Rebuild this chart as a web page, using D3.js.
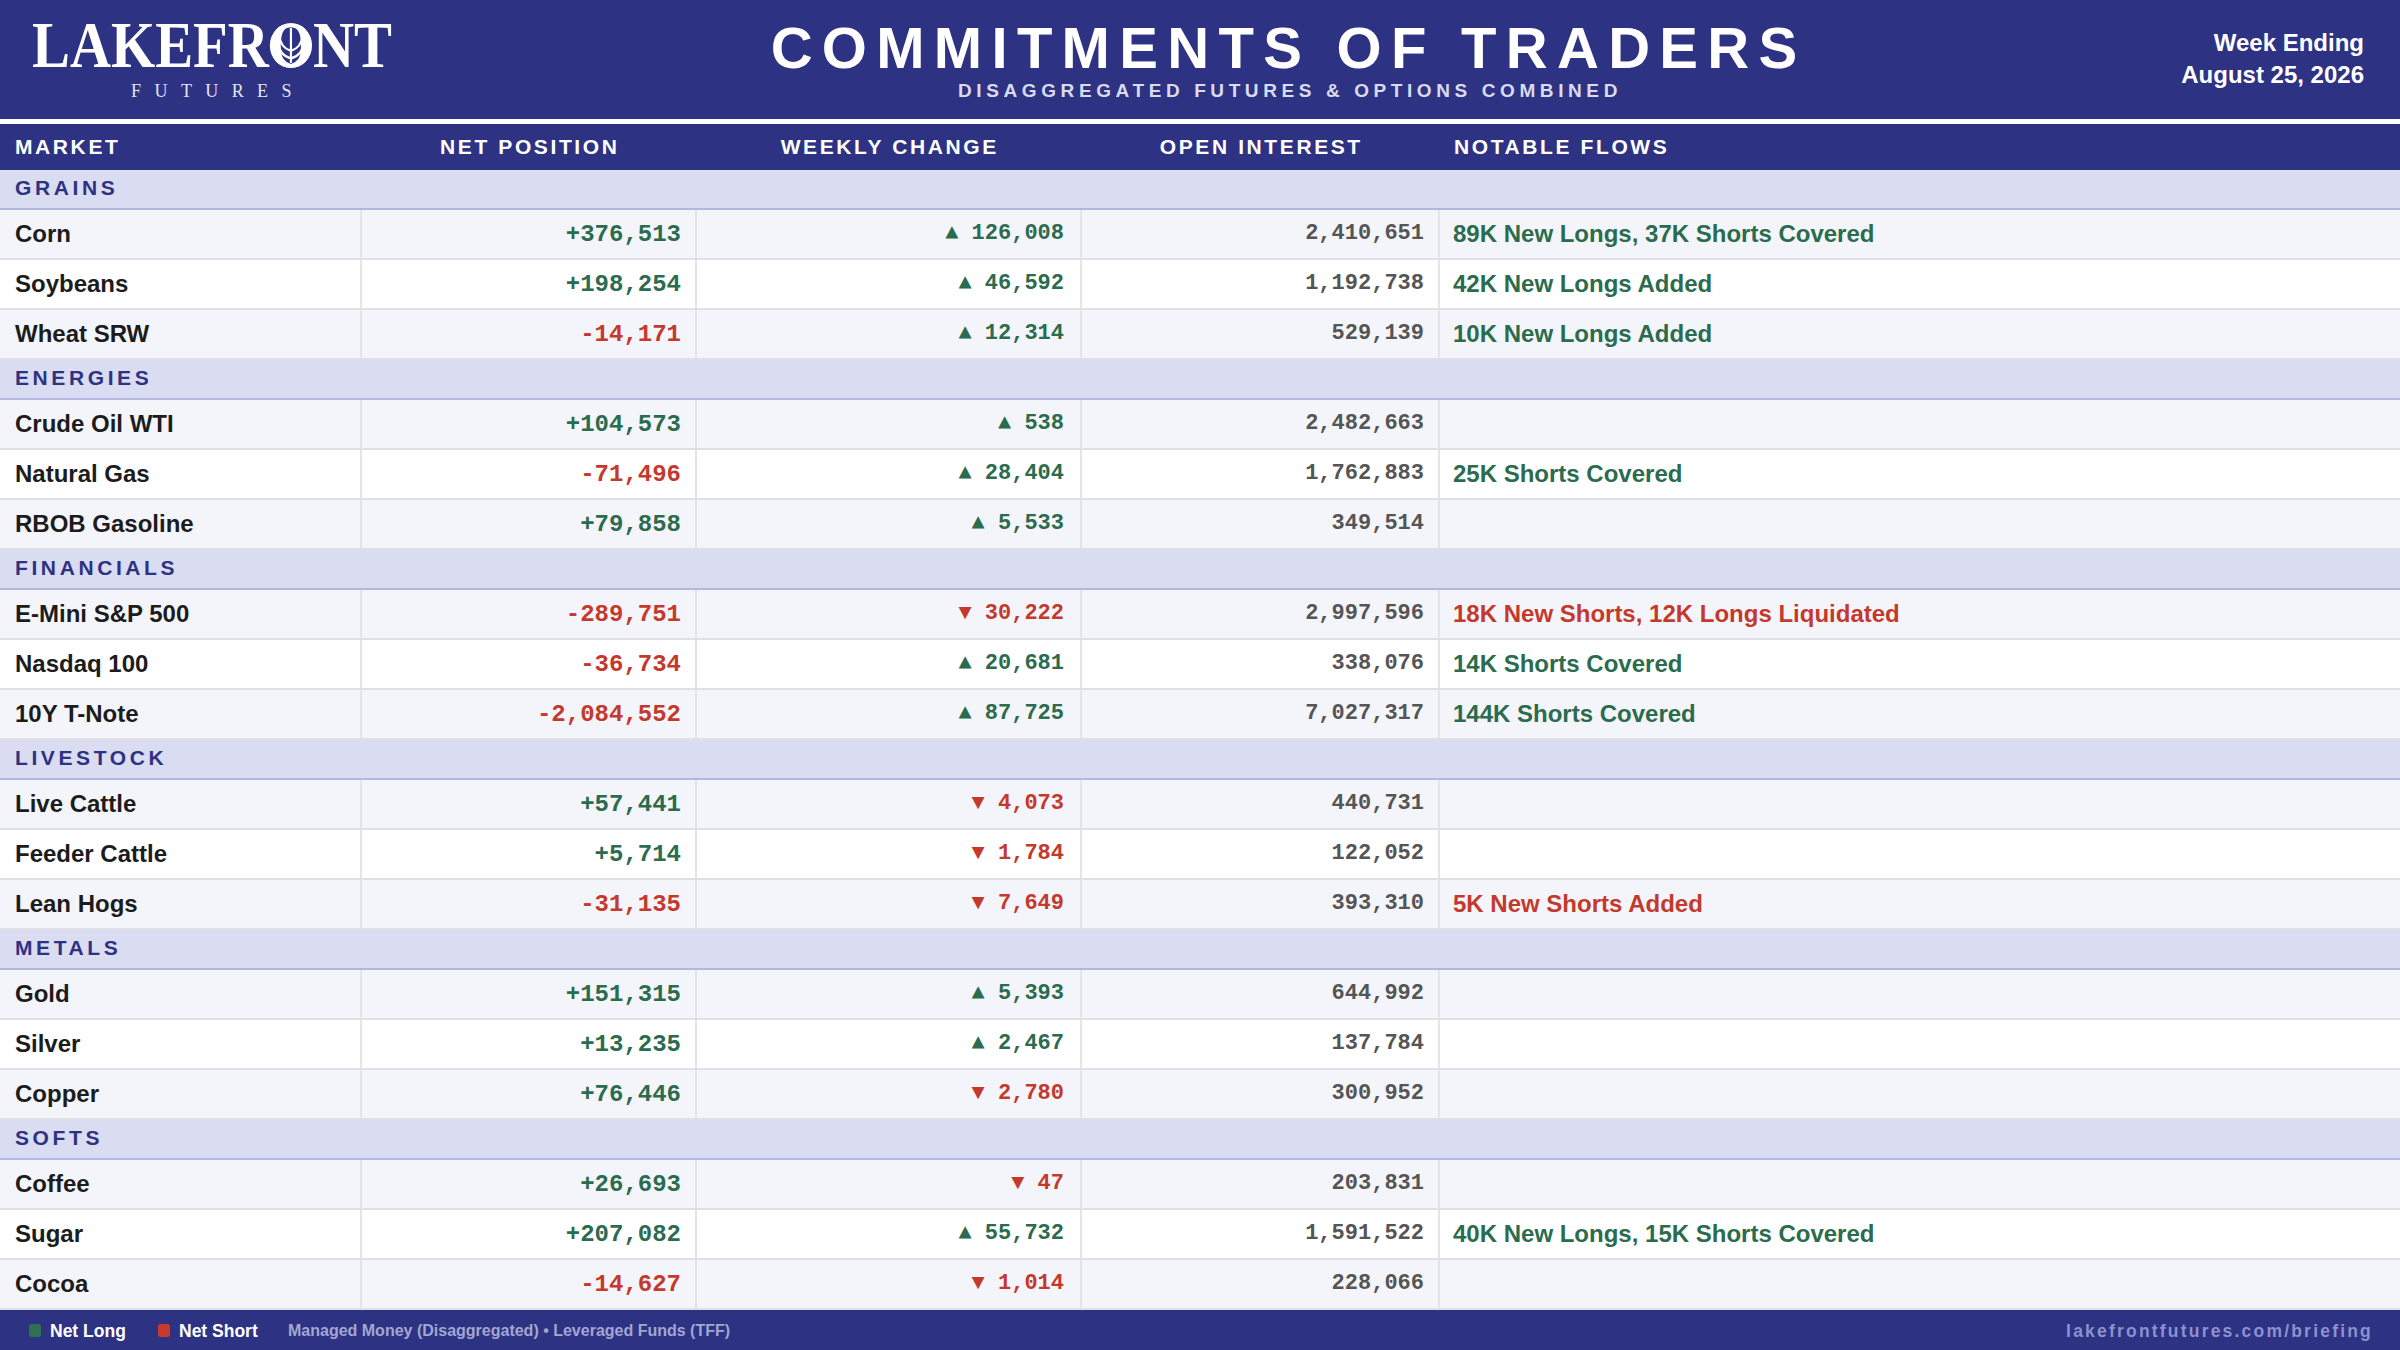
<!DOCTYPE html>
<html>
<head>
<meta charset="utf-8">
<script src="https://cdn.jsdelivr.net/npm/d3@7"></script>
<style>
  html, body { margin: 0; padding: 0; background: #ffffff; }
  svg { display: block; }
</style>
</head>
<body>
<svg id="chart" width="2400" height="1350"></svg>
<script>
// ---------------- DATA ----------------
const groups = ["GRAINS", "ENERGIES", "FINANCIALS", "LIVESTOCK", "METALS", "SOFTS"];
const markets = ["Corn", "Soybeans", "Wheat SRW",
  "Crude Oil WTI", "Natural Gas", "RBOB Gasoline",
  "E-Mini S&P 500", "Nasdaq 100", "10Y T-Note",
  "Live Cattle", "Feeder Cattle", "Lean Hogs",
  "Gold", "Silver", "Copper",
  "Coffee", "Sugar", "Cocoa"];
const marketGroup = ["GRAINS", "GRAINS", "GRAINS",
  "ENERGIES", "ENERGIES", "ENERGIES",
  "FINANCIALS", "FINANCIALS", "FINANCIALS",
  "LIVESTOCK", "LIVESTOCK", "LIVESTOCK",
  "METALS", "METALS", "METALS",
  "SOFTS", "SOFTS", "SOFTS"];
const netPositions = [376513, 198254, -14171,
  104573, -71496, 79858,
  -289751, -36734, -2084552,
  57441, 5714, -31135,
  151315, 13235, 76446,
  26693, 207082, -14627];
const weeklyChanges = [126008, 46592, 12314,
  538, 28404, 5533,
  -30222, 20681, 87725,
  -4073, -1784, -7649,
  5393, 2467, -2780,
  -47, 55732, -1014];
const openInterest = [2410651, 1192738, 529139,
  2482663, 1762883, 349514,
  2997596, 338076, 7027317,
  440731, 122052, 393310,
  644992, 137784, 300952,
  203831, 1591522, 228066];
const notableFlows = ["89K New Longs, 37K Shorts Covered", "42K New Longs Added", "10K New Longs Added",
  "", "25K Shorts Covered", "",
  "18K New Shorts, 12K Longs Liquidated", "14K Shorts Covered", "144K Shorts Covered",
  "", "", "5K New Shorts Added",
  "", "", "",
  "", "40K New Longs, 15K Shorts Covered", ""];
const columnHeaders = ["MARKET", "NET POSITION", "WEEKLY CHANGE", "OPEN INTEREST", "NOTABLE FLOWS"];
const legendLabels = ["Net Long", "Net Short"];
const titleText = "COMMITMENTS OF TRADERS";
const subtitleText = "DISAGGREGATED FUTURES & OPTIONS COMBINED";
const weekLabel = ["Week Ending", "August 25, 2026"];
const footerNote = "Managed Money (Disaggregated) \u2022 Leveraged Funds (TFF)";
const footerUrl = "lakefrontfutures.com/briefing";

// ---------------- STYLE ----------------
const NAVY = "#2e3283";
const GREEN = "#2b6b4e";
const RED = "#c5392c";
const SANS = "'Liberation Sans', Arial, sans-serif";
const MONO = "'Liberation Mono', 'Courier New', monospace";
const SERIF = "'Liberation Serif', 'Times New Roman', serif";

const W = 2400, H = 1350;
const svg = d3.select("#chart");

// ---------------- LAYOUT SCALES ----------------
const rows = [];
groups.forEach(g => {
  rows.push({type: "group", label: g});
  markets.forEach((m, i) => {
    if (marketGroup[i] === g) rows.push({type: "item", i});
  });
});
let acc = 0;
rows.forEach(r => { r.u0 = acc; acc += (r.type === "group" ? 0.8 : 1); r.u1 = acc; });
const y = d3.scaleLinear().domain([0, acc]).range([170, 1310]);

const colKeys = ["market", "net", "change", "oi", "flows"];
const colLeft = d3.scaleOrdinal().domain(colKeys).range([0, 361, 696, 1081, 1439]);
const colRight = d3.scaleOrdinal().domain(colKeys).range([361, 696, 1081, 1439, 2400]);

const fmt = d3.format(",");
const signed = v => (v < 0 ? "-" : "+") + fmt(Math.abs(v));
const arrow = v => (v < 0 ? "\u25BC " : "\u25B2 ") + fmt(Math.abs(v));
const col = v => (v < 0 ? RED : GREEN);

// ---------------- HEADER ----------------
svg.append("rect").attr("x", 0).attr("y", 0).attr("width", W).attr("height", 119).attr("fill", NAVY);
svg.append("rect").attr("x", 0).attr("y", 119).attr("width", W).attr("height", 5).attr("fill", "#ffffff");
svg.append("rect").attr("x", 0).attr("y", 124).attr("width", W).attr("height", 46).attr("fill", NAVY);

// logo
const logo = svg.append("text")
  .attr("x", 32).attr("y", 67)
  .attr("font-family", SERIF).attr("font-weight", "bold").attr("font-size", 66)
  .attr("fill", "#ffffff")
  .attr("textLength", 360).attr("lengthAdjust", "spacingAndGlyphs")
  .text("LAKEFRONT");
svg.append("text")
  .attr("x", 212 + 6).attr("y", 97)
  .attr("text-anchor", "middle")
  .attr("font-family", SERIF).attr("font-size", 18)
  .attr("letter-spacing", 13.4)
  .attr("fill", "#e4e5f5")
  .text("FUTURES");

// leaf emblem inside the "O"
try {
  const ext = logo.node().getExtentOfChar(6);
  const cx = ext.x + ext.width / 2;
  const top = 24, bot = 67;
  const cy = (top + bot) / 2;
  const r = (bot - top) / 2;
  svg.append("ellipse").attr("cx", cx).attr("cy", cy).attr("rx", ext.width / 2 - 3).attr("ry", r - 1)
    .attr("fill", "none").attr("stroke", "#ffffff").attr("stroke-width", 4);
  const leaf = svg.append("g").attr("fill", "none").attr("stroke", "#ffffff").attr("stroke-width", 2.2).attr("stroke-linecap", "round");
  leaf.append("line").attr("x1", cx).attr("x2", cx).attr("y1", cy - r * 0.78).attr("y2", cy + r * 0.78);
  [[-0.05, 0.55], [0.3, 0.6], [0.62, 0.55]].forEach(([dy, w]) => {
    const y0 = cy + r * dy;
    [-1, 1].forEach(s => {
      leaf.append("path").attr("d",
        `M${cx},${y0 + r * 0.3} Q${cx + s * r * w * 0.9},${y0 + r * 0.15} ${cx + s * r * w},${y0 - r * 0.45}`);
    });
  });
} catch (e) {}

// title
svg.append("text")
  .attr("x", 1284 + 4.6).attr("y", 68)
  .attr("text-anchor", "middle")
  .attr("font-family", SANS).attr("font-weight", "bold").attr("font-size", 58)
  .attr("letter-spacing", 9.3)
  .attr("fill", "#ffffff")
  .text(titleText);
svg.append("text")
  .attr("x", 1288 + 2).attr("y", 97)
  .attr("text-anchor", "middle")
  .attr("font-family", SANS).attr("font-weight", "bold").attr("font-size", 19)
  .attr("letter-spacing", 4.6)
  .attr("fill", "#d9dbf0")
  .text(subtitleText);

// week ending
svg.selectAll("text.week").data(weekLabel).join("text")
  .attr("class", "week")
  .attr("x", 2364).attr("y", (d, i) => 51 + i * 32)
  .attr("text-anchor", "end")
  .attr("font-family", SANS).attr("font-weight", "bold").attr("font-size", 24)
  .attr("fill", "#ffffff")
  .text(d => d);

// column headers
const headerPos = [
  {x: 15, anchor: "start"},
  {x: (colLeft("net") + colRight("net")) / 2, anchor: "middle"},
  {x: (colLeft("change") + colRight("change")) / 2, anchor: "middle"},
  {x: (colLeft("oi") + colRight("oi")) / 2, anchor: "middle"},
  {x: colLeft("flows") + 15, anchor: "start"}
];
svg.selectAll("text.colhead").data(columnHeaders).join("text")
  .attr("class", "colhead")
  .attr("x", (d, i) => headerPos[i].x + (headerPos[i].anchor === "middle" ? 1.3 : 0))
  .attr("y", 154)
  .attr("text-anchor", (d, i) => headerPos[i].anchor)
  .attr("font-family", SANS).attr("font-weight", "bold").attr("font-size", 21)
  .attr("letter-spacing", 2.6)
  .attr("fill", "#ffffff")
  .text(d => d);

// ---------------- TABLE ----------------
const body = svg.append("g");
let itemIdxInGroup = 0;
rows.forEach(r => {
  const top = y(r.u0), bottom = y(r.u1);
  const h = bottom - top;
  if (r.type === "group") {
    itemIdxInGroup = 0;
    body.append("rect").attr("x", 0).attr("y", top).attr("width", W).attr("height", h - 2).attr("fill", "#dadcf2");
    body.append("rect").attr("x", 0).attr("y", bottom - 2).attr("width", W).attr("height", 2).attr("fill", "#b3b6de");
    body.append("text")
      .attr("x", 15).attr("y", top + 25)
      .attr("font-family", SANS).attr("font-weight", "bold").attr("font-size", 21)
      .attr("letter-spacing", 3.6)
      .attr("fill", NAVY)
      .text(r.label);
  } else {
    const i = r.i;
    const bg = itemIdxInGroup % 2 === 0 ? "#f4f5fa" : "#ffffff";
    itemIdxInGroup++;
    body.append("rect").attr("x", 0).attr("y", top).attr("width", W).attr("height", h - 2).attr("fill", bg);
    body.append("rect").attr("x", 0).attr("y", bottom - 2).attr("width", W).attr("height", 2).attr("fill", "#dfdfe5");
    ["net", "change", "oi", "flows"].forEach(k => {
      body.append("rect").attr("x", colLeft(k) - 1).attr("y", top).attr("width", 2).attr("height", h - 2).attr("fill", "#e3e3e9");
    });
    body.append("text")
      .attr("x", 15).attr("y", top + 32)
      .attr("font-family", SANS).attr("font-weight", "bold").attr("font-size", 24)
      .attr("fill", "#1c1c1c")
      .text(markets[i]);
    body.append("text")
      .attr("x", colRight("net") - 15).attr("y", top + 31)
      .attr("text-anchor", "end")
      .attr("font-family", MONO).attr("font-weight", "bold").attr("font-size", 24)
      .attr("fill", col(netPositions[i]))
      .text(signed(netPositions[i]));
    body.append("text")
      .attr("x", colRight("change") - 17).attr("y", top + 29)
      .attr("text-anchor", "end")
      .attr("font-family", MONO).attr("font-weight", "bold").attr("font-size", 22)
      .attr("fill", col(weeklyChanges[i]))
      .text(arrow(weeklyChanges[i]));
    body.append("text")
      .attr("x", colRight("oi") - 15).attr("y", top + 29)
      .attr("text-anchor", "end")
      .attr("font-family", MONO).attr("font-weight", "bold").attr("font-size", 22)
      .attr("fill", "#555555")
      .text(fmt(openInterest[i]));
    if (notableFlows[i]) {
      body.append("text")
        .attr("x", colLeft("flows") + 14).attr("y", top + 32)
        .attr("font-family", SANS).attr("font-weight", "bold").attr("font-size", 24)
        .attr("fill", col(weeklyChanges[i]))
        .text(notableFlows[i]);
    }
  }
});

// ---------------- FOOTER ----------------
svg.append("rect").attr("x", 0).attr("y", 1310).attr("width", W).attr("height", 40).attr("fill", NAVY);
const legendX = [29, 158];
const legendCol = ["#2e7050", "#c73a2c"];
legendLabels.forEach((l, i) => {
  svg.append("rect").attr("x", legendX[i]).attr("y", 1324).attr("width", 12).attr("height", 13).attr("rx", 2.5).attr("fill", legendCol[i]);
  svg.append("text").attr("x", legendX[i] + 21).attr("y", 1337)
    .attr("font-family", SANS).attr("font-weight", "bold").attr("font-size", 17.5)
    .attr("fill", "#ffffff").text(l);
});
svg.append("text").attr("x", 288).attr("y", 1336)
  .attr("font-family", SANS).attr("font-weight", "bold").attr("font-size", 16)
  .attr("fill", "#a2a6d2").text(footerNote);
svg.append("text").attr("x", 2373).attr("y", 1337)
  .attr("text-anchor", "end")
  .attr("font-family", SANS).attr("font-weight", "bold").attr("font-size", 17.5)
  .attr("letter-spacing", 2.2)
  .attr("fill", "#8c91cf").text(footerUrl);
</script>
</body>
</html>
